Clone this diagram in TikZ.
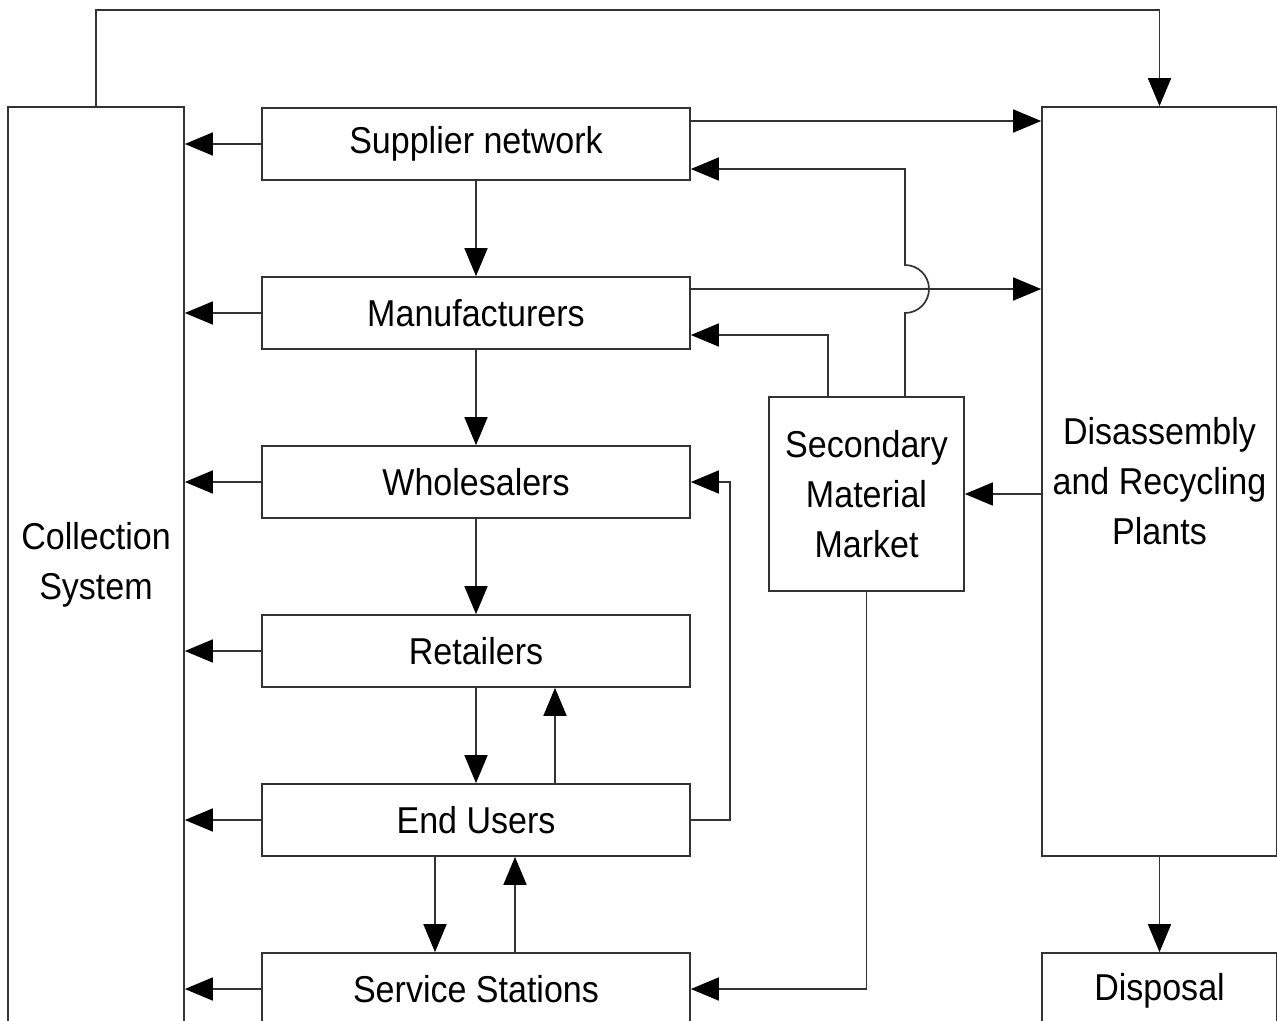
\documentclass[tikz,border=0pt]{standalone}
\usepackage{fontspec}
\setmainfont{Liberation Sans}
\newfontfamily\labfont[FakeStretch=0.91]{Liberation Sans}
\usetikzlibrary{arrows.meta,calc}
\begin{document}
\begin{tikzpicture}[x=1pt,y=-1pt,
  line/.style={draw=black!80,line width=1.7pt},
  arr/.style={line,-{Triangle[length=28pt,width=23pt,color=black]}},
  box/.style={line,rectangle,inner sep=0pt,align=center,font=\labfont\fontsize{37.4}{50}\selectfont},
]
\useasboundingbox (0,0) rectangle (1277,1020);
\clip (0,0) rectangle (1277,1020);
\node[box,minimum width=176pt,minimum height=916pt] (coll) at (96,565) {Collection\\System};
\node[box,minimum width=428pt,minimum height=72pt] (sup) at (476,144) {Supplier network};
\node[box,minimum width=428pt,minimum height=72pt] (man) at (476,313) {Manufacturers};
\node[box,minimum width=428pt,minimum height=72pt] (who) at (476,482) {Wholesalers};
\node[box,minimum width=428pt,minimum height=72pt] (ret) at (476,651) {Retailers};
\node[box,minimum width=428pt,minimum height=72pt] (end) at (476,820) {End Users};
\node[box,minimum width=428pt,minimum height=72pt] (serv) at (476,989) {Service Stations};
\node[box,minimum width=235pt,minimum height=749pt] (dis) at (1159.5,481.5) {Disassembly\\and Recycling\\Plants};
\node[box,minimum width=235pt,minimum height=76pt] (disp) at (1159.5,991) {Disposal};
\node[box,minimum width=195pt,minimum height=194pt] (smm) at (866.5,494) {Secondary\\Material\\Market};
% to collection system
\foreach \n in {sup,man,who,ret,end,serv}
  \draw[arr] (\n.west) -- (\n.west -| coll.east);
% main chain
\draw[arr] (sup) -- (man);
\draw[arr] (man) -- (who);
\draw[arr] (who) -- (ret);
\draw[arr] (ret) -- (end);
\draw[arr] ([xshift=79pt]end.north) -- ([xshift=79pt]ret.south);
\draw[arr] ([xshift=-41pt]end.south) -- ([xshift=-41pt]serv.north);
\draw[arr] ([xshift=39pt]serv.north) -- ([xshift=39pt]end.south);
\draw[arr] (end.east) -- ++(39,0) |- (who.east);
% to disassembly
\draw[arr] ([yshift=23pt]sup.east) -- ([yshift=23pt]sup.east -| dis.west);
\draw[arr] ([yshift=24pt]man.east) -- ([yshift=24pt]man.east -| dis.west);
% secondary market
\coordinate (sj) at ([xshift=38.5pt]smm.north);
\draw[line] (sj) -- (sj |- 0,313) arc[start angle=-90,end angle=90,radius=24pt] -- (sj |- 0,169) -- ++(-5,0);
\draw[arr] (sj |- 0,169) -- ([yshift=-25pt]sup.east);
\draw[arr] ([xshift=-38.5pt]smm.north) |- ([yshift=-22pt]man.east);
\draw[arr] (smm.east -| dis.west) -- (smm.east);
\draw[arr] (smm.south) |- (serv.east);
\draw[arr] (dis.south) -- (disp.north);
% top loop
\draw[arr] (coll.north) -- ++(0,-96) -| (dis.north);
\end{tikzpicture}
\end{document}
